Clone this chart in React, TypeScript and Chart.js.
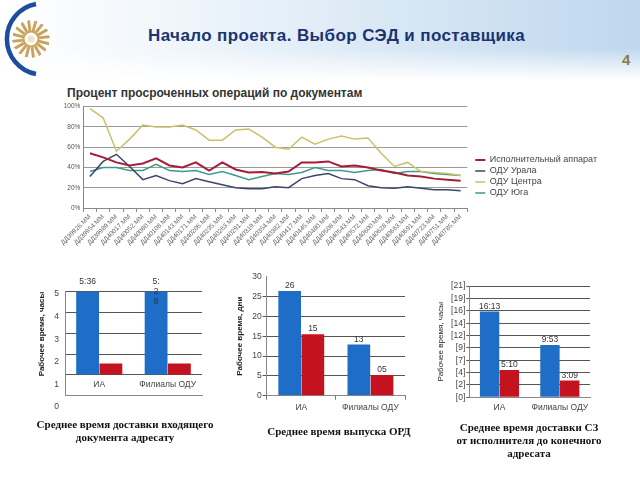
import React, { useEffect, useRef } from 'react';
import { Chart, registerables } from 'chart.js';

Chart.register(...registerables);

// ---------- DATA ----------
const headerTitle = 'Начало проекта. Выбор СЭД и поставщика';
const pageNumber = '4';

const lineTitle = 'Процент просроченных операций по документам';
const dateLabels = [
  'ДД39926.ММ', 'ДД39954.ММ', 'ДД39989.ММ', 'ДД40017.ММ', 'ДД40052.ММ', 'ДД40080.ММ',
  'ДД40108.ММ', 'ДД40143.ММ', 'ДД40171.ММ', 'ДД40206.ММ', 'ДД40235.ММ', 'ДД40263.ММ',
  'ДД40291.ММ', 'ДД40319.ММ', 'ДД40354.ММ', 'ДД40382.ММ', 'ДД40417.ММ', 'ДД40445.ММ',
  'ДД40480.ММ', 'ДД40508.ММ', 'ДД40543.ММ', 'ДД40572.ММ', 'ДД40600.ММ', 'ДД40628.ММ',
  'ДД40663.ММ', 'ДД40691.ММ', 'ДД40723.ММ', 'ДД40751.ММ', 'ДД40785.ММ',
];
const seriesNames = ['Исполнительный аппарат', 'ОДУ Урала', 'ОДУ Центра', 'ОДУ Юга'];
const ispApparat = [54, 50, 45, 42, 44, 49, 42, 40, 45, 37, 45, 38, 35, 35.5, 34, 36, 45, 45, 46, 41, 42, 40, 37, 35, 32, 31, 29, 28, 27];
const oduUrala = [31, 46, 53, 41, 28, 32, 27, 24, 29, 26, 23, 20, 19, 19, 21, 20, 29, 32, 34, 29, 28, 22, 20, 19.5, 21, 19.5, 18, 18, 17];
const oduCentra = [98, 89, 56, 68, 82, 80, 80, 82, 77, 67, 67, 77, 78, 70, 60, 58, 70, 63, 68, 71, 68, 69, 54, 41, 45, 36, 35, 34, 32];
const oduYuga = [36, 40, 40, 37, 37, 43, 37, 36, 37, 33, 36, 32, 28, 31, 34, 33, 35, 40, 37, 37, 35, 37, 38, 34, 36, 36, 34, 33, 32];

const barCategories = ['ИА', 'Филиалы ОДУ'];

// Chart 1: incoming document delivery (hours)
const incomingBlue = [5.6, 5.47];
const incomingRed = [1.55, 1.55];
const incomingBlueLabels = ['5:36', '5:\n2\n8'];
const incomingTicks = ['0', '1', '2', '3', '4', '5'];
const incomingAxisTitle = 'Рабочее время, часы';
const incomingCaption = ['Среднее время доставки входящего', 'документа адресату'];

// Chart 2: ORD release (days)
const ordBlue = [26.4, 12.9];
const ordRed = [15.5, 5.2];
const ordBlueLabels = ['26', '13'];
const ordRedLabels = ['15', '05'];
const ordAxisTitle = 'Рабочее время, дни';
const ordCaption = ['Среднее время выпуска ОРД'];

// Chart 3: SZ delivery (hours)
const szBlue = [16.22, 9.88];
const szRed = [5.17, 3.15];
const szBlueLabels = ['16:13', '9:53'];
const szRedLabels = ['5:10', '3:09'];
const szTicks = ['[0]', '[2]', '[4]', '[7]', '[9]', '[12]', '[14]', '[16]', '[19]', '[21]'];
const szAxisTitle = 'Рабочее время, часы';
const szCaption = ['Среднее время доставки СЗ', 'от исполнителя до конечного', 'адресата'];

// ---------- STYLE ----------
const FONT = 'Arial, "Liberation Sans", sans-serif';
const SERIF = '"Liberation Serif", "Times New Roman", serif';
const BLUE = '#1e6ec8';
const RED = '#c4121f';
const LINE_COLORS = ['#a51d36', '#3d4568', '#c9c26a', '#3f9a8a'];
const LINE_WIDTHS = [2, 1.5, 1.5, 1.5];

Chart.defaults.font.family = FONT;

function valueLabels(lists: string[][], offset: number, fontSize: number) {
  return {
    id: 'valueLabels',
    afterDatasetsDraw(chart: any) {
      const { ctx, chartArea } = chart;
      ctx.save();
      ctx.font = `${fontSize}px ${FONT}`;
      ctx.fillStyle = '#333';
      ctx.textAlign = 'center';
      ctx.textBaseline = 'bottom';
      lists.forEach((list, di) => {
        const meta = chart.getDatasetMeta(di);
        meta.data.forEach((el: any, i: number) => {
          const txt = list[i];
          if (!txt) return;
          const top = Math.max(el.y, chartArea.top);
          txt.split('\n').forEach((line, k) => ctx.fillText(line, el.x, top - offset + k * 10));
        });
      });
      ctx.restore();
    },
  };
}

const legendShift = (dx: number) => ({
  id: 'legendShift',
  afterLayout(chart: any) {
    const lg = chart.legend;
    if (lg) {
      lg.left += dx;
      lg.right += dx;
    }
  },
});

const catTicks = (padding: number, mirror = false) => ({
  font: { size: 8.5 },
  color: '#444',
  padding,
  mirror,
  autoSkip: false,
  minRotation: 0,
  maxRotation: 0,
});

export default function App() {
  const lineRef = useRef<HTMLCanvasElement>(null);
  const c1Ref = useRef<HTMLCanvasElement>(null);
  const c2Ref = useRef<HTMLCanvasElement>(null);
  const c3Ref = useRef<HTMLCanvasElement>(null);

  useEffect(() => {
    const charts: Chart[] = [];
    const lineSeries = [ispApparat, oduUrala, oduCentra, oduYuga];

    charts.push(
      new Chart(lineRef.current!, {
        type: 'line',
        data: {
          labels: dateLabels,
          datasets: lineSeries.map((d, i) => ({
            label: seriesNames[i],
            data: d,
            borderColor: LINE_COLORS[i],
            backgroundColor: LINE_COLORS[i],
            borderWidth: LINE_WIDTHS[i],
            pointRadius: 0,
            tension: 0,
          })),
        },
        options: {
          responsive: false,
          animation: false,
          devicePixelRatio: 1,
          layout: { padding: { top: 11.7, bottom: 23.7, left: 0, right: 14 } },
          plugins: {
            legend: {
              position: 'right',
              labels: {
                usePointStyle: true,
                pointStyle: 'line',
                pointStyleWidth: 10,
                padding: 2,
                color: '#444',
                font: { size: 9 },
              },
            },
            tooltip: { enabled: false },
          },
          scales: {
            x: {
              offset: true,
              grid: { display: true, drawOnChartArea: false, offset: true, tickLength: 4, color: '#888' },
              border: { color: '#888' },
              ticks: { minRotation: 45, maxRotation: 45, autoSkip: false, font: { size: 6.5 }, color: '#666', padding: 1 },
              afterFit: (s: any) => { s.height = 38.3; },
            },
            y: {
              min: 0,
              max: 100,
              ticks: { stepSize: 20, callback: (v: any) => v + '%', font: { size: 6.5 }, color: '#555', padding: 3 },
              grid: { color: '#9a9a9a', drawTicks: false },
              border: { color: '#888' },
              afterFit: (s: any) => { s.width = 28.3; },
            },
          },
        },
        plugins: [legendShift(6)],
      } as any)
    );

    // Chart 1
    charts.push(
      new Chart(c1Ref.current!, {
        type: 'bar',
        data: {
          labels: barCategories,
          datasets: [
            { data: incomingBlue, backgroundColor: BLUE, base: 1, yAxisID: 'y', categoryPercentage: 0.68, barPercentage: 0.98 },
            { data: incomingRed, backgroundColor: RED, base: 1, yAxisID: 'y', categoryPercentage: 0.68, barPercentage: 0.98 },
          ],
        },
        options: {
          responsive: false,
          animation: false,
          devicePixelRatio: 1,
          layout: { padding: { top: 21.7, right: 8, left: 0, bottom: 0 } },
          plugins: { legend: { display: false }, tooltip: { enabled: false } },
          scales: {
            x: {
              grid: { display: false, drawTicks: false },
              border: { color: '#888' },
              ticks: catTicks(5.6, true),
              afterFit: (s: any) => { s.height = 24.3; },
            },
            y: {
              min: 0,
              max: 5,
              ticks: { display: false, stepSize: 1 },
              grid: { color: '#555', drawTicks: false },
              border: { color: '#888' },
              afterFit: (s: any) => { s.width = 0; },
            },
            yl: {
              axis: 'y',
              position: 'left',
              min: 0.5,
              max: 5.1,
              grid: { display: false, drawTicks: false },
              border: { display: false },
              afterBuildTicks: (ax: any) => { ax.ticks = incomingTicks.map((t) => ({ value: Number(t) })); },
              ticks: { callback: (_v: any, i: number) => incomingTicks[i], font: { size: 8.5 }, color: '#444', padding: 6, autoSkip: false },
              title: { display: true, text: incomingAxisTitle, font: { size: 8, weight: 'bold' }, color: '#222', align: 'end', padding: { top: 7, bottom: 0 } },
              afterFit: (s: any) => { s.width = 35; },
            },
          },
        },
        plugins: [valueLabels([incomingBlueLabels, []], 6, 8.5)],
      } as any)
    );

    // Chart 2
    charts.push(
      new Chart(c2Ref.current!, {
        type: 'bar',
        data: {
          labels: barCategories,
          datasets: [
            { data: ordBlue, backgroundColor: BLUE, categoryPercentage: 0.67, barPercentage: 0.98 },
            { data: ordRed, backgroundColor: RED, categoryPercentage: 0.67, barPercentage: 0.98 },
          ],
        },
        options: {
          responsive: false,
          animation: false,
          devicePixelRatio: 1,
          layout: { padding: { top: 11.7, right: 10, left: 0, bottom: 0 } },
          plugins: { legend: { display: false }, tooltip: { enabled: false } },
          scales: {
            x: {
              grid: { display: true, drawOnChartArea: false, offset: true, tickLength: 4, color: '#777' },
              border: { color: '#888' },
              ticks: catTicks(3),
              afterFit: (s: any) => { s.height = 19.3; },
            },
            y: {
              min: 0,
              max: 30,
              ticks: { stepSize: 5, font: { size: 8.5 }, color: '#444', padding: 1, autoSkip: false },
              grid: {
                color: (c: any) => (c.tick && c.tick.value === 30 ? 'rgba(0,0,0,0)' : '#555'),
                tickLength: 4,
              },
              border: { color: '#888' },
              title: { display: true, text: ordAxisTitle, font: { size: 8, weight: 'bold' }, color: '#222', padding: { top: 10, bottom: 0 } },
              afterFit: (s: any) => { s.width = 41.7; },
            },
          },
        },
        plugins: [valueLabels([ordBlueLabels, ordRedLabels], 1, 8.5)],
      } as any)
    );

    // Chart 3
    charts.push(
      new Chart(c3Ref.current!, {
        type: 'bar',
        data: {
          labels: barCategories,
          datasets: [
            { data: szBlue, backgroundColor: BLUE, categoryPercentage: 0.655, barPercentage: 0.98 },
            { data: szRed, backgroundColor: RED, categoryPercentage: 0.655, barPercentage: 0.98 },
          ],
        },
        options: {
          responsive: false,
          animation: false,
          devicePixelRatio: 1,
          layout: { padding: { top: 6, right: 15, left: 0, bottom: 0 } },
          plugins: { legend: { display: false }, tooltip: { enabled: false } },
          scales: {
            x: {
              grid: { display: false, drawTicks: false },
              border: { color: '#888' },
              ticks: catTicks(5),
              afterFit: (s: any) => { s.height = 22.7; },
            },
            y: {
              min: 0,
              max: 21,
              afterBuildTicks: (ax: any) => {
                ax.ticks = szTicks.map((_t, i) => ({ value: (i * 21) / (szTicks.length - 1) }));
              },
              ticks: { callback: (_v: any, i: number) => szTicks[i], font: { size: 8.5 }, color: '#444', padding: 1, autoSkip: false },
              grid: { color: '#555', tickLength: 3 },
              border: { color: '#888' },
              title: { display: true, text: szAxisTitle, font: { size: 8 }, color: '#222', padding: { top: 16, bottom: 0 } },
              afterFit: (s: any) => { s.width = 49.3; },
            },
          },
        },
        plugins: [valueLabels([szBlueLabels, szRedLabels], 1, 8.5)],
      } as any)
    );

    return () => charts.forEach((c) => c.destroy());
  }, []);

  const abs = (left: number, top: number): React.CSSProperties => ({ position: 'absolute', left, top });
  const captionStyle = (cx: number, top: number, w: number): React.CSSProperties => ({
    position: 'absolute',
    left: cx - w / 2,
    top,
    width: w,
    textAlign: 'center',
    fontFamily: SERIF,
    fontWeight: 'bold',
    fontSize: 11,
    lineHeight: '13px',
    color: '#111',
  });

  const rays = Array.from({ length: 16 }, (_, i) => (i * 360) / 16);

  return (
    <div style={{ position: 'fixed', left: 0, top: 0, width: 640, height: 480, background: '#fff', overflow: 'hidden' }}>
      <div
        style={{
          position: 'absolute',
          left: 0,
          top: 0,
          width: 640,
          height: 80,
          background: 'linear-gradient(90deg, #ffffff 0%, #eef5fb 30%, #d6e6f4 65%, #bfd7ee 100%)',
        }}
      />
      <div
        style={{
          position: 'absolute',
          left: 0,
          top: 0,
          width: 640,
          height: 80,
          background: 'linear-gradient(180deg, rgba(255,255,255,0) 60%, #ffffff 100%)',
        }}
      />
      <svg width={70} height={80} style={abs(0, 0)}>
        <path d="M 36 4 A 35.6 35.6 0 0 0 36 74" stroke="#1d4e9e" strokeWidth={4.5} fill="none" />
        <g transform="translate(31,39)">
          {rays.map((a) => (
            <line
              key={a}
              x1={0}
              y1={-8}
              x2={0}
              y2={-18}
              stroke="#c9a25e"
              strokeWidth={3}
              transform={`rotate(${a}) skewX(-15)`}
            />
          ))}
          <circle r={7.5} fill="#fff" stroke="#c9a25e" strokeWidth={2} />
          <circle r={3.5} fill="#f1e3c4" />
        </g>
      </svg>
      <div
        style={{
          ...abs(148, 25),
          fontFamily: FONT,
          fontWeight: 'bold',
          fontSize: 17,
          lineHeight: '22px',
          letterSpacing: 0.4,
          color: '#1b3370',
          whiteSpace: 'nowrap',
        }}
      >
        {headerTitle}
      </div>
      <div style={{ ...abs(622, 51), fontFamily: FONT, fontWeight: 'bold', fontSize: 15, color: '#8a7a4c' }}>{pageNumber}</div>

      <div
        style={{
          ...abs(67, 86),
          fontFamily: FONT,
          fontWeight: 'bold',
          fontSize: 12,
          lineHeight: '14px',
          color: '#333',
          whiteSpace: 'nowrap',
        }}
      >
        {lineTitle}
      </div>

      <canvas ref={lineRef} width={560} height={175} style={{ ...abs(55, 95), width: 560, height: 175 }} />
      <canvas ref={c1Ref} width={180} height={150} style={{ ...abs(30, 270), width: 180, height: 150 }} />
      <canvas ref={c2Ref} width={190} height={150} style={{ ...abs(225, 265), width: 190, height: 150 }} />
      <canvas ref={c3Ref} width={185} height={140} style={{ ...abs(420, 280), width: 185, height: 140 }} />

      <div style={captionStyle(125, 418, 200)}>
        {incomingCaption.map((l, i) => (
          <div key={i}>{l}</div>
        ))}
      </div>
      <div style={captionStyle(339, 425, 200)}>
        {ordCaption.map((l, i) => (
          <div key={i}>{l}</div>
        ))}
      </div>
      <div style={captionStyle(529, 421, 200)}>
        {szCaption.map((l, i) => (
          <div key={i}>{l}</div>
        ))}
      </div>
    </div>
  );
}
